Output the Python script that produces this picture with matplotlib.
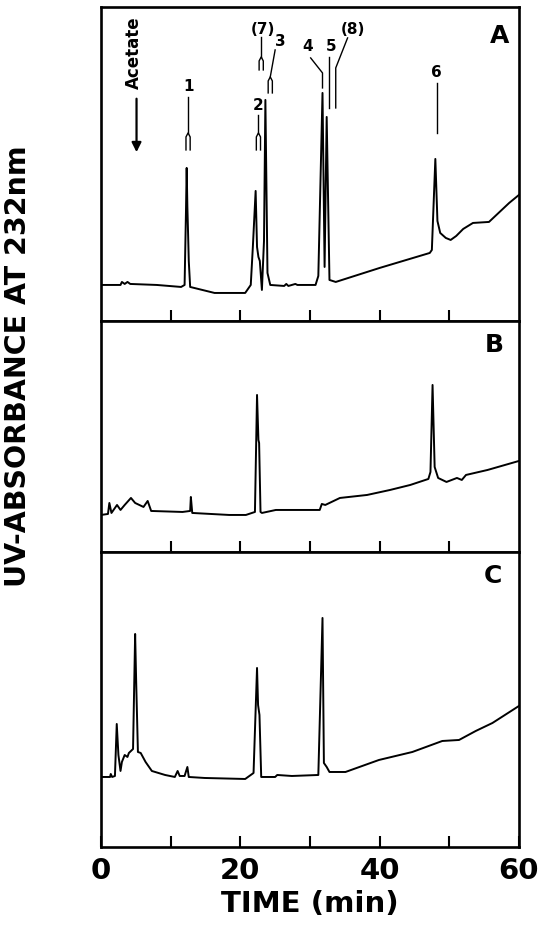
import matplotlib
matplotlib.use('Agg')
from matplotlib import pyplot as plt

plt.rcParams['font.family'] = ['DejaVu Sans']
plt.rcParams['font.weight'] = 'bold'
plt.rcParams['axes.labelweight'] = 'bold'

# chromatogram traces (time in min, absorbance in arbitrary units)
time_a = [0.0, 2.8, 3.0, 3.4, 3.8, 4.2, 8.0, 11.5, 12.0, 12.2, 12.3, 12.4, 12.5, 12.6, 12.8,
          16.3, 20.7, 21.5, 21.8, 22.2, 22.4, 22.6, 22.8, 23.1, 23.4, 23.6, 23.9, 24.3,
          26.3, 26.6, 26.9, 27.9, 28.2, 30.8, 31.2, 31.8, 32.1, 32.4, 32.8, 33.7, 40.0,
          47.2, 47.5, 48.0, 48.3, 48.7, 49.5, 50.2, 51.0, 52.0, 53.4, 55.7, 58.6, 60.0]
abs_a = [36, 36, 39, 37, 39, 37, 36, 34, 36, 110, 153, 114, 88, 60, 34,
         28, 28, 36, 74, 130, 74, 64, 60, 31, 80, 221, 48, 36,
         35, 37, 35, 37, 36, 36, 45, 228, 54, 204, 41, 39, 53,
         68, 71, 162, 100, 88, 83, 81, 85, 92, 98, 99, 118, 126]

time_b = [0.0, 1.0, 1.2, 1.5, 2.3, 2.8, 3.4, 4.3, 4.9, 6.1, 6.7, 7.2, 11.7, 12.8, 12.9, 13.1,
          18.4, 20.8, 22.1, 22.4, 22.6, 22.7, 22.9, 23.1, 25.1, 27.3, 31.4, 31.7, 32.2,
          34.3, 38.2, 41.5, 44.4, 47.0, 47.3, 47.6, 47.9, 48.4, 49.6, 51.1, 51.8, 52.4,
          55.5, 60.0]
abs_b = [37, 38, 49, 39, 47, 42, 47, 54, 49, 45, 51, 41, 40, 41, 55, 39,
         37, 37, 40, 157, 112, 109, 40, 39, 42, 42, 42, 48, 47,
         54, 57, 62, 67, 73, 80, 167, 85, 74, 70, 74, 72, 77,
         82, 91]

time_c = [0.0, 1.3, 1.4, 1.6, 2.0, 2.26, 2.5, 2.8, 3.0, 3.4, 3.8, 4.0, 4.6, 4.9, 5.05, 5.3,
          5.7, 6.4, 7.3, 9.2, 10.6, 11.0, 11.3, 12.0, 12.4, 12.6, 14.9, 20.7, 21.9, 22.4,
          22.55, 22.75, 23.0, 25.0, 25.3, 27.4, 31.2, 31.8, 32.0, 32.4, 32.8, 35.1, 37.5,
          39.9, 44.7, 49.0, 51.4, 53.8, 56.2, 60.0]
abs_c = [70, 70, 73, 70, 71, 123, 92, 76, 85, 92, 90, 94, 98, 213, 165, 95,
         94, 85, 76, 72, 70, 76, 71, 71, 80, 70, 69, 68, 74, 179,
         142, 132, 70, 70, 72, 71, 72, 229, 84, 80, 75, 75, 81,
         87, 95, 106, 107, 116, 124, 141]

panel_names = ['A', 'B', 'C']
panel_top = [314, 231, 295]

# peak labels in panel A: (text, x, y of text)
peak_labels = [('1', 12.5, 234), ('2', 22.6, 215), ('(7)', 23.2, 291), ('3', 25.7, 279),
               ('4', 29.6, 274), ('5', 33.0, 274), ('(8)', 36.1, 291), ('6', 48.2, 248)]

fig = plt.figure(figsize=(5.41, 9.36), dpi=100)
left, width = 0.1867, 0.7725
bottoms = [0.6571, 0.4103, 0.0951]
heights = [0.3355, 0.2468, 0.3152]

axes = []
for i in range(3):
    ax = fig.add_axes([left, bottoms[i], width, heights[i]])
    ax.set_xlim(0, 60)
    ax.set_ylim(0, panel_top[i])
    for s in ax.spines.values():
        s.set_linewidth(1.9)
    ax.set_yticks([])
    ax.set_xticks(range(10, 51, 10))
    ax.tick_params(axis='x', direction='in', length=8, width=1.5, pad=7,
                   labelsize=21)
    ax.set_xticklabels([])
    axes.append(ax)

ax_a, ax_b, ax_c = axes
ax_c.set_xticks(range(0, 61, 10))
ax_c.set_xticklabels(['0', '', '20', '', '40', '', '60'])

ax_a.plot(time_a, abs_a, color='k', lw=1.4)
ax_b.plot(time_b, abs_b, color='k', lw=1.4)
ax_c.plot(time_c, abs_c, color='k', lw=1.4)

for ax, name, x, y in zip(axes, panel_names, [57.2, 56.5, 56.3], [285, 207, 271]):
    ax.text(x, y, name, fontsize=18, ha='center', va='center')

ax_c.set_xlabel('TIME (min)', fontsize=21, fontweight='bold', labelpad=4)
fig.text(0.033, 1 - 366 / 936, 'UV-ABSORBANCE AT 232nm', rotation=90,
         fontsize=20.5, ha='center', va='center')

# acetate marker
ax_a.text(4.7, 268, 'Acetate', rotation=90, fontsize=12, ha='center', va='center')
ax_a.annotate('', xy=(5.1, 166), xytext=(5.1, 225),
              arrowprops=dict(arrowstyle='-|>', lw=1.6, color='k', mutation_scale=14))

for txt, x, y in peak_labels:
    ax_a.text(x, y, txt, fontsize=11, ha='center', va='center')


def fork(ax, xs, ys, w=0.3):
    # leader line ending in a small inverted-U fork
    ax.plot(xs, ys[:-1], color='k', lw=1.0)
    x, top, bot = xs[-1], ys[-2], ys[-1]
    ax.plot([x - w, x - w, x, x + w, x + w], [bot, top - 4, top, top - 4, bot],
            color='k', lw=1.0)


fork(ax_a, [12.5, 12.5], [224, 188, 171])
fork(ax_a, [22.6, 22.6], [206, 188, 171])
fork(ax_a, [23.0, 23.0], [284, 264, 251])
fork(ax_a, [25.0, 24.3], [271, 244, 228])
ax_a.plot([30.1, 31.8, 31.8], [263, 248, 233], color='k', lw=1.0)
ax_a.plot([32.7, 32.7], [264, 213], color='k', lw=1.0)
ax_a.plot([35.4, 33.7, 33.7], [283, 253, 213], color='k', lw=1.0)
ax_a.plot([48.2, 48.2], [238, 188], color='k', lw=1.0)

fig.savefig('out.png', dpi=100)
